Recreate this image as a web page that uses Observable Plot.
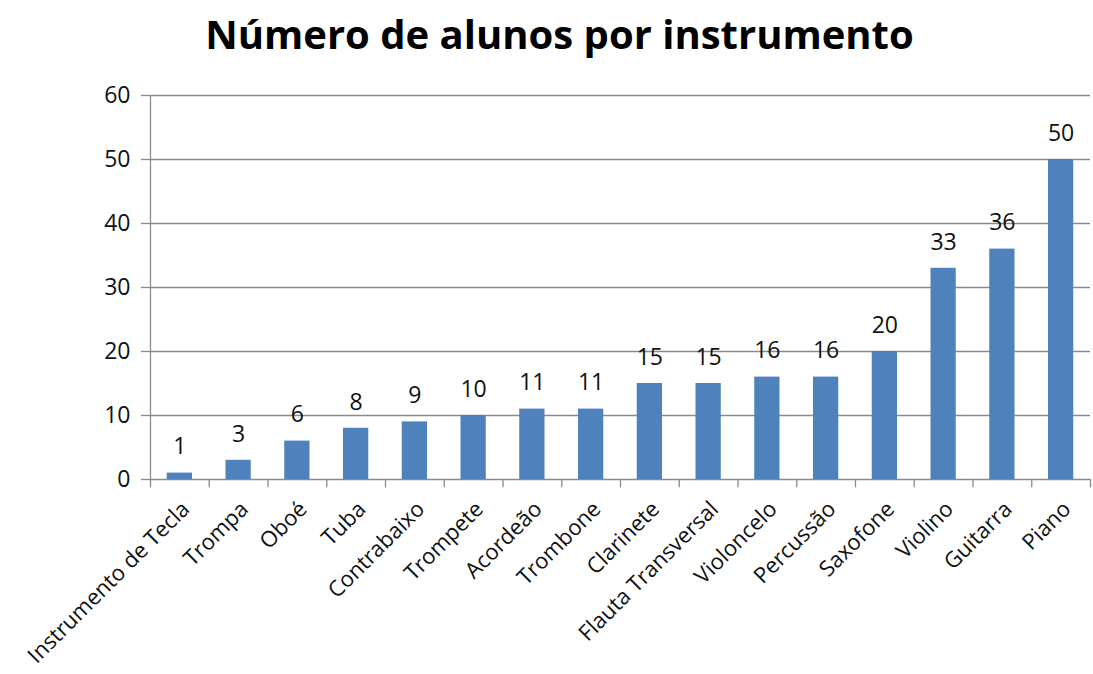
<!DOCTYPE html>
<html>
<head>
<meta charset="utf-8">
<script src="https://cdn.jsdelivr.net/npm/d3@7"></script>
<script src="https://cdn.jsdelivr.net/npm/@observablehq/plot@0.6"></script>
<style>
  html, body { margin: 0; padding: 0; background: #fff; }
  #title { height: 70px; width: 1093px; font-family: "Open Sans", sans-serif; font-weight: bold; font-size: 40px; color: #000; text-align: center; line-height: 68px; padding-left: 26px; box-sizing: border-box; }
  #chart svg { display: block; overflow: visible; }
</style>
</head>
<body>
<div id="title">Número de alunos por instrumento</div>
<div id="chart"></div>
<script>
const categories = ["Instrumento de Tecla", "Trompa", "Oboé", "Tuba", "Contrabaixo", "Trompete", "Acordeão", "Trombone", "Clarinete", "Flauta Transversal", "Violoncelo", "Percussão", "Saxofone", "Violino", "Guitarra", "Piano"];
const values = [1, 3, 6, 8, 9, 10, 11, 11, 15, 15, 16, 16, 20, 33, 36, 50];
const yTicks = [0, 10, 20, 30, 40, 50, 60];

const data = categories.map((c, i) => ({category: c, value: values[i]}));
const W = 1093, H = 604;
const mL = 150, mR = 3;
const step = (W - mL - mR) / categories.length;
const grid = "#8a8a8a";
const font = "'Open Sans', sans-serif";
const lastCat = categories[categories.length - 1];

const chart = Plot.plot({
  width: W,
  height: H,
  marginLeft: mL,
  marginRight: mR,
  marginTop: 25,
  marginBottom: 195,
  style: {fontFamily: font, fontSize: "22px", color: "#111", background: "#fff"},
  x: {domain: categories, paddingInner: 0.57, paddingOuter: 0.285, round: false, label: null},
  y: {domain: [0, 60], label: null},
  marks: [
    Plot.ruleY(yTicks, {stroke: grid, strokeWidth: 1.3, strokeOpacity: 1}),
    Plot.axisY({ticks: yTicks, tickSize: 9, tickPadding: 11, stroke: grid, strokeOpacity: 1, strokeWidth: 1.3, fontSize: 23, fill: "#111"}),
    // vertical axis line at the left edge of the first category band
    Plot.ruleX([categories[0]], {x: d => d, y1: 0, y2: 60, dx: -step / 2, stroke: grid, strokeWidth: 1.3}),
    // category boundary ticks below the x axis
    Plot.ruleX(categories, {x: d => d, y1: 0, y2: -1.3, dx: -step / 2, stroke: grid, strokeWidth: 1.3}),
    Plot.ruleX([lastCat], {x: d => d, y1: 0, y2: -1.3, dx: step / 2, stroke: grid, strokeWidth: 1.3}),
    Plot.barY(data, {x: "category", y: "value", fill: "#4F81BD"}),
    Plot.text(data, {x: "category", y: "value", text: d => String(d.value), dy: -26, fontSize: 23, fill: "#111"}),
    Plot.axisX({tickSize: 0, tickRotate: -45, tickPadding: 26, fontSize: 22, dx: 6, fill: "#111"})
  ]
});
document.getElementById("chart").appendChild(chart);
</script>
</body>
</html>
